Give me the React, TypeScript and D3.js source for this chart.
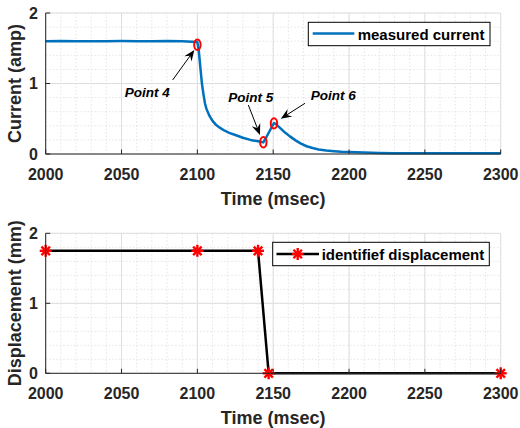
import React from "react";
import * as d3 from "d3";

// ---------- data ----------
const currentTime = [
  2000, 2010, 2020, 2030, 2040, 2050, 2060, 2070, 2080, 2090, 2100,
  2101, 2102, 2103, 2104, 2105, 2106, 2108, 2110, 2112, 2115, 2118, 2121,
  2125, 2130, 2135, 2140, 2143.5, 2145, 2148, 2150.5, 2152, 2155, 2158,
  2161, 2165, 2168, 2172, 2176, 2180, 2185, 2190, 2195, 2200, 2210, 2220,
  2230, 2240, 2250, 2260, 2270, 2280, 2290, 2300,
];
const currentAmp = [
  1.6, 1.603, 1.6, 1.598, 1.6, 1.602, 1.6, 1.6, 1.603, 1.6, 1.59,
  1.45, 1.22, 1.0, 0.85, 0.72, 0.64, 0.54, 0.47, 0.42, 0.37, 0.33, 0.3,
  0.27, 0.23, 0.2, 0.18, 0.165, 0.22, 0.34, 0.44, 0.42, 0.36, 0.3,
  0.25, 0.19, 0.15, 0.11, 0.085, 0.065, 0.05, 0.04, 0.032, 0.027, 0.02, 0.015,
  0.012, 0.012, 0.01, 0.012, 0.01, 0.012, 0.01, 0.01,
];

const dispTime = [2000, 2100, 2140, 2147, 2300];
const dispMm = [1.75, 1.75, 1.75, 0, 0];

const xTicks = [2000, 2050, 2100, 2150, 2200, 2250, 2300];
const yTicks = [0, 1, 2];

const markedTime = [2100, 2143.5, 2150.5];
const markedAmp = [1.55, 0.166, 0.435];
const pointLabels = ["Point 4", "Point 5", "Point 6"];
const labelTime = [2052.2, 2120.4, 2174.7];
const labelAmp = [0.81, 0.74, 0.766];
const arrowFromTime = [2083.7, 2133.6, 2171];
const arrowFromAmp = [1.05, 0.695, 0.72];
const arrowToTime = [2098, 2141.3, 2155];
const arrowToAmp = [1.475, 0.27, 0.5];

const legendTop = "measured current";
const legendBottom = "identifief displacement";
const xLabel = "Time (msec)";
const yLabelTop = "Current (amp)";
const yLabelBottom = "Displacement (mm)";

// ---------- layout ----------
const W = 520;
const H = 428;
const LEFT = 45.7;
const RIGHT = 500.7;
const FONT = "'Liberation Sans', Arial, Helvetica, sans-serif";
const AXIS = "#262626";
const GRID = "#dedede";
const BLUE = "#0072BD";

const x = d3.scaleLinear().domain([2000, 2300]).range([LEFT, RIGHT]);
const minorX = d3.range(2000, 2301, 10);
const minorY = d3.range(0, 2.01, 0.2);

function Panel({ top, bottom, yLabel, children }: any) {
  const y = d3.scaleLinear().domain([0, 2]).range([bottom, top]);
  return (
    <g>
      <rect x={LEFT} y={top} width={RIGHT - LEFT} height={bottom - top} fill="#fff" />
      {minorX.map((t) => (
        <line key={"mx" + t} x1={x(t)} x2={x(t)} y1={top} y2={bottom}
          stroke={GRID} strokeWidth={0.8} strokeDasharray="1.5,2" />
      ))}
      {minorY.map((v) => (
        <line key={"my" + v} x1={LEFT} x2={RIGHT} y1={y(v)} y2={y(v)}
          stroke={GRID} strokeWidth={0.8} strokeDasharray="1.5,2" />
      ))}
      {xTicks.map((t) => (
        <line key={"gx" + t} x1={x(t)} x2={x(t)} y1={top} y2={bottom} stroke={GRID} strokeWidth={1} />
      ))}
      {yTicks.map((v) => (
        <line key={"gy" + v} x1={LEFT} x2={RIGHT} y1={y(v)} y2={y(v)} stroke={GRID} strokeWidth={1} />
      ))}
      {children(y)}
      {/* axes */}
      <line x1={LEFT} x2={RIGHT} y1={bottom} y2={bottom} stroke={AXIS} strokeWidth={1} />
      <line x1={LEFT} x2={LEFT} y1={top} y2={bottom} stroke={AXIS} strokeWidth={1} />
      {xTicks.map((t) => (
        <g key={"tx" + t}>
          <line x1={x(t)} x2={x(t)} y1={bottom} y2={bottom - 4.5} stroke={AXIS} strokeWidth={1} />
          <text x={x(t)} y={bottom + 25.5} textAnchor="middle" fontFamily={FONT}
            fontWeight="bold" fontSize={16} fill={AXIS}>{t}</text>
        </g>
      ))}
      {yTicks.map((v) => (
        <g key={"ty" + v}>
          <line x1={LEFT} x2={LEFT + 4.5} y1={y(v)} y2={y(v)} stroke={AXIS} strokeWidth={1} />
          <text x={38} y={y(v) + 5.8} textAnchor="end" fontFamily={FONT}
            fontWeight="bold" fontSize={16} fill={AXIS}>{v}</text>
        </g>
      ))}
      <text x={(LEFT + RIGHT) / 2} y={bottom + 51} textAnchor="middle" fontFamily={FONT}
        fontWeight="bold" fontSize={18} fill={AXIS}>{xLabel}</text>
      <text transform={`translate(20.5,${(top + bottom) / 2}) rotate(-90)`} textAnchor="middle"
        fontFamily={FONT} fontWeight="bold" fontSize={18} fill={AXIS}>{yLabel}</text>
    </g>
  );
}

function Arrow({ x1, y1, x2, y2 }: any) {
  const dx = x2 - x1;
  const dy = y2 - y1;
  const len = Math.sqrt(dx * dx + dy * dy);
  const ux = dx / len;
  const uy = dy / len;
  const nx = -uy;
  const ny = ux;
  const L = 11;
  const w = 4.5;
  const pts = [
    [x2, y2],
    [x2 - L * ux + w * nx, y2 - L * uy + w * ny],
    [x2 - 0.65 * L * ux, y2 - 0.65 * L * uy],
    [x2 - L * ux - w * nx, y2 - L * uy - w * ny],
  ];
  return (
    <g>
      <line x1={x1} y1={y1} x2={x2 - 0.65 * L * ux} y2={y2 - 0.65 * L * uy} stroke="#000" strokeWidth={1} />
      <polygon points={pts.map((p) => p.join(",")).join(" ")} fill="#000" />
    </g>
  );
}

function Star({ cx, cy, r }: any) {
  const d = r * 0.7071;
  return (
    <g stroke="#ff0000" strokeWidth={2.4}>
      <line x1={cx - r} x2={cx + r} y1={cy} y2={cy} />
      <line x1={cx} x2={cx} y1={cy - r} y2={cy + r} />
      <line x1={cx - d} x2={cx + d} y1={cy - d} y2={cy + d} />
      <line x1={cx - d} x2={cx + d} y1={cy + d} y2={cy - d} />
    </g>
  );
}

export default function App() {
  const currentData = currentTime.map((t, i) => [t, currentAmp[i]] as [number, number]);
  const dispData = dispTime.map((t, i) => [t, dispMm[i]] as [number, number]);

  return (
    <div style={{ position: "absolute", left: 0, top: 0 }}>
      <svg width={W} height={H} style={{ display: "block", background: "#fff" }}>
        <Panel top={13} bottom={154} yLabel={yLabelTop}>
          {(y: any) => {
            const line = d3.line<[number, number]>().x((d) => x(d[0])).y((d) => y(d[1]));
            return (
              <g>
                <path d={line(currentData) || ""} fill="none" stroke={BLUE} strokeWidth={2.5}
                  strokeLinejoin="round" />
                {markedTime.map((t, i) => (
                  <ellipse key={"m" + i} cx={x(t)} cy={y(markedAmp[i])} rx={3.2} ry={5.2}
                    fill="none" stroke="#ff0000" strokeWidth={2} />
                ))}
                {pointLabels.map((lab, i) => (
                  <g key={"p" + i}>
                    <Arrow x1={x(arrowFromTime[i])} y1={y(arrowFromAmp[i])}
                      x2={x(arrowToTime[i])} y2={y(arrowToAmp[i])} />
                    <text x={x(labelTime[i])} y={y(labelAmp[i])} fontFamily={FONT} fontWeight="bold"
                      fontStyle="italic" fontSize={13.5} fill="#000">{lab}</text>
                  </g>
                ))}
                {/* legend */}
                <rect x={308.3} y={22.3} width={181.7} height={23.4} fill="#fff" stroke="#000" strokeWidth={1} />
                <line x1={312.7} x2={354.3} y1={33.6} y2={33.6} stroke={BLUE} strokeWidth={2.5} />
                <text x={357.7} y={39.5} fontFamily={FONT} fontWeight="bold" fontSize={15} fill="#000">
                  {legendTop}
                </text>
              </g>
            );
          }}
        </Panel>
        <Panel top={233.3} bottom={373.3} yLabel={yLabelBottom}>
          {(y: any) => {
            const line = d3.line<[number, number]>().x((d) => x(d[0])).y((d) => y(d[1]));
            return (
              <g>
                <path d={line(dispData) || ""} fill="none" stroke="#000" strokeWidth={2.5} />
                {dispData.map((d, i) => (
                  <Star key={"s" + i} cx={x(d[0])} cy={y(d[1])} r={6} />
                ))}
                <rect x={272.7} y={242.3} width={216.6} height={23.4} fill="#fff" stroke="#000" strokeWidth={1} />
                <line x1={276.5} x2={319} y1={254} y2={254} stroke="#000" strokeWidth={2.5} />
                <Star cx={297.7} cy={254} r={6} />
                <text x={321.7} y={259.5} fontFamily={FONT} fontWeight="bold" fontSize={15} fill="#000">
                  {legendBottom}
                </text>
              </g>
            );
          }}
        </Panel>
      </svg>
    </div>
  );
}
